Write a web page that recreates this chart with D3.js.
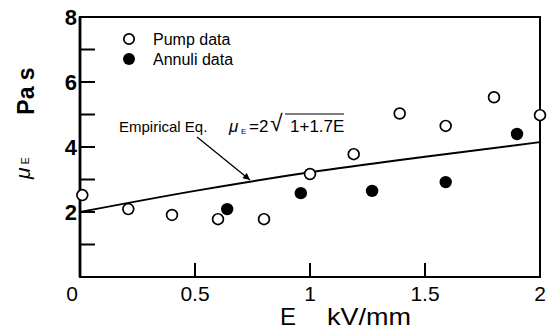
<!DOCTYPE html>
<html>
<head>
<meta charset="utf-8">
<script src="https://cdn.jsdelivr.net/npm/d3@7"></script>
<style>
  body { margin: 0; background: #fff; }
  text { font-family: "Liberation Sans", Arial, sans-serif; fill: #000; }
</style>
</head>
<body>
<div id="chart"></div>
<script>
// data
var pumpE  = [0.01, 0.21, 0.40, 0.60, 0.80, 1.00, 1.19, 1.39, 1.59, 1.80, 2.00]
var pumpMu = [2.52, 2.09, 1.91, 1.78, 1.78, 3.17, 3.78, 5.03, 4.65, 5.53, 4.98]
var annuliE  = [0.64, 0.96, 1.27, 1.59, 1.90]
var annuliMu = [2.09, 2.58, 2.65, 2.92, 4.40]
// empirical curve mu = 2*sqrt(1+1.7E), sampled
var eqE  = [0, 0.5, 1.0, 1.5, 2.0]
var eqMu = [2.0, 2.65, 3.22, 3.70, 4.15]
var xTicks = [0, 0.5, 1, 1.5, 2]
var xTickLabels = ["0", "0.5", "1", "1.5", "2"]
var yTicks = [2, 4, 6, 8]
var yMinor = [1, 2, 3, 4, 5, 6, 7]

var W = 547, H = 331
var margin = {top: 17, right: 7, bottom: 54, left: 80}
var width = W - margin.left - margin.right,
    height = H - margin.top - margin.bottom

var svg = d3.select("#chart").append("svg")
    .attr("width", W).attr("height", H)
var g = svg.append("g")
    .attr("transform", "translate(" + margin.left + "," + margin.top + ")")

var x = d3.scaleLinear().domain([0, 2]).range([0, width])
var y = d3.scaleLinear().domain([0, 8]).range([height, 0])

// frame
g.append("rect")
  .attr("width", width).attr("height", height)
  .attr("fill", "none").attr("stroke", "#000").attr("stroke-width", 2)
g.append("line").attr("x1", 0).attr("x2", 0).attr("y1", 0).attr("y2", height)
  .attr("stroke", "#000").attr("stroke-width", 2.8)

// inner ticks on y
g.selectAll(".ytick").data(yMinor).enter().append("line")
  .attr("x1", 0).attr("x2", 15)
  .attr("y1", function(d) { return y(d) }).attr("y2", function(d) { return y(d) })
  .attr("stroke", "#000").attr("stroke-width", 2)

// inner ticks on x
g.selectAll(".xtick").data([0.5, 1, 1.5]).enter().append("line")
  .attr("x1", function(d) { return x(d) }).attr("x2", function(d) { return x(d) })
  .attr("y1", height).attr("y2", height - 14)
  .attr("stroke", "#000").attr("stroke-width", 2)

// tick labels
g.selectAll(".ylab").data(yTicks).enter().append("text")
  .attr("x", -3).attr("y", function(d) { return y(d) + 8 })
  .attr("text-anchor", "end")
  .style("font-size", "22px").style("font-weight", "bold")
  .text(function(d) { return d })

g.selectAll(".xlab").data(xTicks).enter().append("text")
  .attr("x", function(d) { return x(d) - (d == 0 ? 8 : 0) })
  .attr("y", height + 24)
  .attr("text-anchor", "middle")
  .style("font-size", "21px")
  .text(function(d, i) { return xTickLabels[i] })

// axis titles
svg.append("text").attr("x", 280).attr("y", 325)
  .style("font-size", "24px").text("E")
svg.append("text").attr("x", 327).attr("y", 325)
  .style("font-size", "24px")
  .attr("textLength", 84).attr("lengthAdjust", "spacingAndGlyphs")
  .text("kV/mm")

svg.append("text")
  .attr("transform", "translate(34,91) rotate(-90)")
  .attr("text-anchor", "middle")
  .style("font-size", "23px").style("font-weight", "bold")
  .text("Pa s")

var muT = svg.append("text")
  .attr("transform", "translate(30,168) rotate(-90)")
  .attr("text-anchor", "middle")
muT.append("tspan").style("font-size", "21px").style("font-style", "italic").text("μ")
muT.append("tspan").attr("dx", 3).attr("dy", -1).style("font-size", "11px").text("E")

// empirical curve
var line = d3.line()
  .x(function(d) { return x(d[0]) })
  .y(function(d) { return y(d[1]) })
  .curve(d3.curveMonotoneX)
g.append("path")
  .datum(d3.zip(eqE, eqMu))
  .attr("d", line)
  .attr("fill", "none").attr("stroke", "#000").attr("stroke-width", 2)

// points
g.selectAll(".pump").data(d3.zip(pumpE, pumpMu)).enter().append("circle")
  .attr("cx", function(d) { return x(d[0]) })
  .attr("cy", function(d) { return y(d[1]) })
  .attr("r", 5.4)
  .attr("fill", "#fff").attr("stroke", "#000").attr("stroke-width", 1.7)

g.selectAll(".annuli").data(d3.zip(annuliE, annuliMu)).enter().append("circle")
  .attr("cx", function(d) { return x(d[0]) })
  .attr("cy", function(d) { return y(d[1]) })
  .attr("r", 6.2)
  .attr("fill", "#000")

// legend
svg.append("circle").attr("cx", 129).attr("cy", 39).attr("r", 5.2)
  .attr("fill", "#fff").attr("stroke", "#000").attr("stroke-width", 1.7)
svg.append("circle").attr("cx", 129).attr("cy", 59).attr("r", 6).attr("fill", "#000")
svg.append("text").attr("x", 153).attr("y", 45).style("font-size", "16px").text("Pump data")
svg.append("text").attr("x", 153).attr("y", 65).style("font-size", "16px").text("Annuli data")

// annotation
svg.append("text").attr("x", 119).attr("y", 132).style("font-size", "15px").text("Empirical Eq.")
svg.append("text").attr("x", 229).attr("y", 132).style("font-size", "17px")
  .style("font-style", "italic").text("μ")
svg.append("text").attr("x", 241).attr("y", 134).style("font-size", "8px").text("E")
svg.append("text").attr("x", 249).attr("y", 132).style("font-size", "17px").text("=2")
svg.append("text").attr("x", 270).attr("y", 131).style("font-size", "23px").text("√")
svg.append("text").attr("x", 290).attr("y", 132).style("font-size", "17px").text("1+1.7E")
svg.append("line").attr("x1", 285).attr("x2", 344).attr("y1", 114).attr("y2", 114)
  .attr("stroke", "#000").attr("stroke-width", 1)

svg.append("defs").append("marker")
  .attr("id", "arr").attr("viewBox", "0 0 10 10")
  .attr("refX", 10).attr("refY", 5)
  .attr("markerWidth", 9).attr("markerHeight", 7)
  .attr("markerUnits", "userSpaceOnUse")
  .attr("orient", "auto")
  .append("path").attr("d", "M0,0 L10,5 L0,10 z").attr("fill", "#000")
svg.append("line").attr("x1", 197).attr("y1", 137).attr("x2", 250).attr("y2", 180)
  .attr("stroke", "#000").attr("stroke-width", 1.3)
  .attr("marker-end", "url(#arr)")
</script>
</body>
</html>
